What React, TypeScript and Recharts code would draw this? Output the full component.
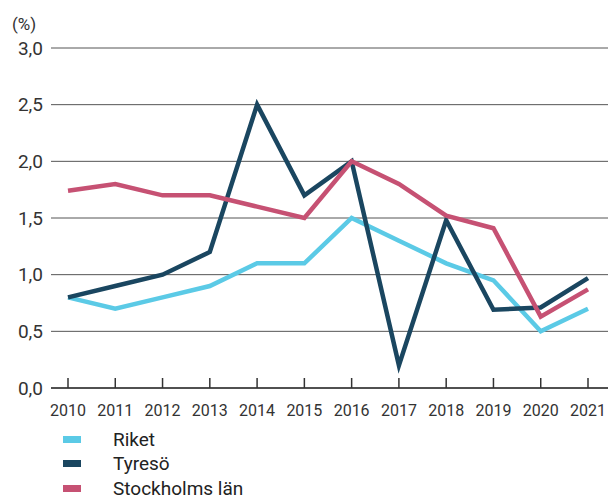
import { CartesianGrid, Line, LineChart, XAxis, YAxis } from 'recharts'

const years = ['2010', '2011', '2012', '2013', '2014', '2015', '2016', '2017', '2018', '2019', '2020', '2021']
const riket = [0.8, 0.7, 0.8, 0.9, 1.1, 1.1, 1.5, 1.3, 1.1, 0.95, 0.5, 0.7]
const tyreso = [0.8, 0.9, 1.0, 1.2, 2.5, 1.7, 2.0, 0.2, 1.48, 0.69, 0.71, 0.97]
const stockholm = [1.74, 1.8, 1.7, 1.7, 1.6, 1.5, 2.0, 1.8, 1.52, 1.41, 0.63, 0.87]
const yTicks = [0, 0.5, 1, 1.5, 2, 2.5, 3]

const series = [
  { key: 'riket', name: 'Riket', color: '#5bcae6' },
  { key: 'tyreso', name: 'Tyresö', color: '#1a4660' },
  { key: 'stockholm', name: 'Stockholms län', color: '#c65173' },
]

const data = years.map((year, i) => ({
  year,
  riket: riket[i],
  tyreso: tyreso[i],
  stockholm: stockholm[i],
}))

const font = 'Roboto, "Noto Sans", sans-serif'

function YearTick({ x, y, payload }: any) {
  return (
    <g>
      <line x1={x} x2={x} y1={y - 10} y2={y} stroke="#333" strokeWidth={1.5} />
      <text x={x} y={y + 28} textAnchor="middle" fontSize={16} fill="#333" fontFamily={font}>
        {payload.value}
      </text>
    </g>
  )
}

export default function App() {
  return (
    <div style={{ position: 'absolute', left: 0, top: 0, width: 614, height: 500, background: '#fff', fontFamily: font }}>
      <div style={{ position: 'absolute', left: 12, top: 14, fontSize: 17, color: '#333' }}>(%)</div>
      <LineChart width={614} height={500} data={data} margin={{ top: 48, right: 6, left: 0, bottom: 82 }}>
        <CartesianGrid vertical={false} stroke="#555" strokeWidth={1} />
        <XAxis
          dataKey="year"
          height={30}
          padding={{ left: 17, right: 20 }}
          axisLine={{ stroke: '#333', strokeWidth: 1.5 }}
          tickLine={false}
          tickSize={0}
          tickMargin={0}
          tick={<YearTick />}
          interval={0}
        />
        <YAxis
          width={51}
          domain={[0, 3]}
          ticks={yTicks}
          axisLine={false}
          tickLine={false}
          tickSize={0}
          tickMargin={8}
          tickFormatter={(v: number) => v.toFixed(1).replace('.', ',')}
          tick={{ fontSize: 19, fill: '#333', fontFamily: font }}
        />
        {series.map((s) => (
          <Line
            key={s.key}
            type="linear"
            dataKey={s.key}
            name={s.name}
            stroke={s.color}
            strokeWidth={4.5}
            dot={false}
            isAnimationActive={false}
          />
        ))}
      </LineChart>
      <div style={{ position: 'absolute', left: 63, top: 427 }}>
        {series.map((s) => (
          <div key={s.key} style={{ display: 'flex', alignItems: 'center', height: 24.5 }}>
            <span style={{ display: 'inline-block', width: 18, height: 7, background: s.color, marginRight: 32 }} />
            <span style={{ fontSize: 19, color: '#222' }}>{s.name}</span>
          </div>
        ))}
      </div>
    </div>
  )
}
